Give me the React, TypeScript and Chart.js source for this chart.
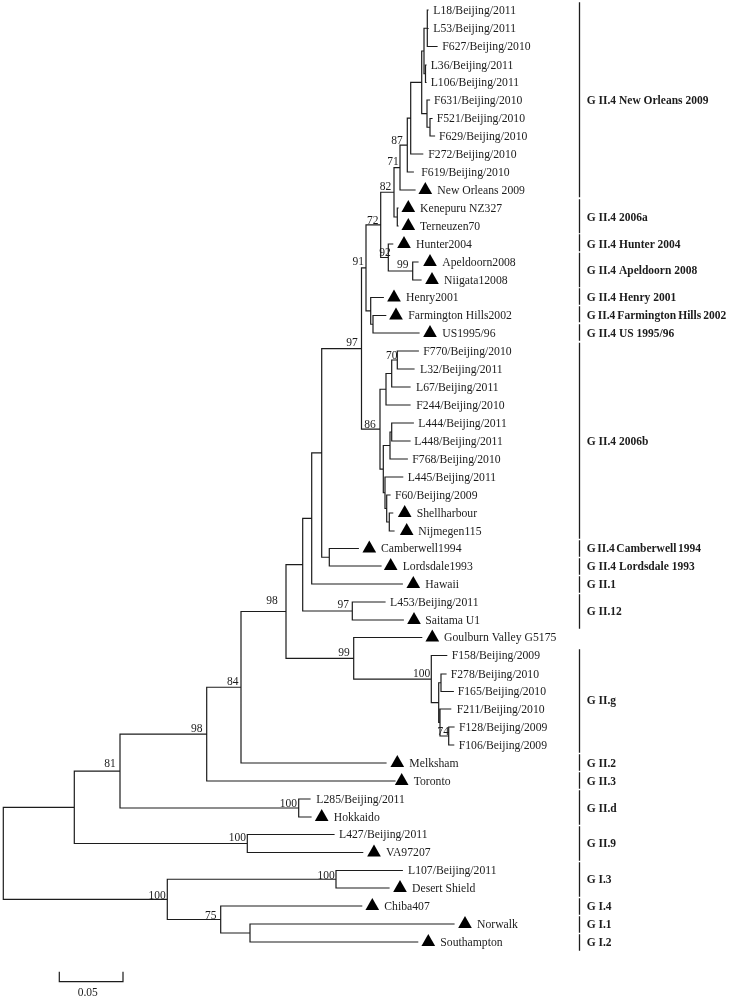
import React, { useEffect, useRef } from "react";
import { Chart, registerables } from "chart.js";

Chart.register(...registerables);

const taxa = ["L18/Beijing/2011","L53/Beijing/2011","F627/Beijing/2010","L36/Beijing/2011","L106/Beijing/2011","F631/Beijing/2010","F521/Beijing/2010","F629/Beijing/2010","F272/Beijing/2010","F619/Beijing/2010","New Orleans 2009","Kenepuru NZ327","Terneuzen70","Hunter2004","Apeldoorn2008","Niigata12008","Henry2001","Farmington Hills2002","US1995/96","F770/Beijing/2010","L32/Beijing/2011","L67/Beijing/2011","F244/Beijing/2010","L444/Beijing/2011","L448/Beijing/2011","F768/Beijing/2010","L445/Beijing/2011","F60/Beijing/2009","Shellharbour","Nijmegen115","Camberwell1994","Lordsdale1993","Hawaii","L453/Beijing/2011","Saitama U1","Goulburn Valley G5175","F158/Beijing/2009","F278/Beijing/2010","F165/Beijing/2010","F211/Beijing/2010","F128/Beijing/2009","F106/Beijing/2009","Melksham","Toronto","L285/Beijing/2011","Hokkaido","L427/Beijing/2011","VA97207","L107/Beijing/2011","Desert Shield","Chiba407","Norwalk","Southampton"];
const taxaY = [10,28.5,46.5,65,82.5,100,118.5,136,154,172,190,208,226,244,262,280,297.5,315.5,333,351,369,387,405,423,441,459,477,495,513,531,548.5,566,584,602,620,637.5,655.5,674,691.5,709,727,745,763,781,799,817,834.5,852.5,870.5,888,906,924,942];
const tipX = [428,428,437,426,426,429.5,432,434.5,422.7,413.3,415,398,398,392.7,418,421,383.3,385.7,419,418.3,414,410,410,413.3,410,407.3,402.7,390,392.7,394,358.3,381,402.3,385,403.3,421.7,446.7,446,453.3,450.7,454,453.7,386,395,310,311,334,362.7,402.3,389,361.7,454,417.7];
const labelX = [433.3,433.3,442.3,430.7,430.7,434,436.7,439,428.3,421.3,437.3,420,420,416,442.3,444,406,408.3,442.3,423.3,420,416,416.3,418.3,414.3,412.3,407.7,395,416.7,418.3,381,402.7,425.3,390,425.3,444,451.7,450.7,457.7,456.7,459,458.7,409.3,413.7,316.3,333.7,339,386,408,412,384.3,477,440.3];
const markerX = [null,null,null,null,null,null,null,null,null,null,425.3,408.3,408.3,404,430,432,394,396,430,null,null,null,null,null,null,null,null,null,404.7,406.7,369.3,390.7,413.3,null,414,432.3,null,null,null,null,null,null,397.3,401.7,null,321.7,null,374,null,400,372.3,465,428.3];
const taxaParent = ["A","A","A","B","B","C","D","D","F","G","H","J","J","L","M","M","Q","R","R","X","X","W","U","AA","AA","Y","Z","AB","AC","AC","AE","AE","AF","AH","AH","AJ","AK","AM","AM","AN","AO","AO","AP","AQ","AS","AS","AU","AU","AW","AW","AX","AY","AY"];

const nodeIds = ["Root","AT","AV","AR","AU","AQ","AS","AP","AI","AG","AJ","AF","AH","AD","S","AE","O","T","K","Q","I","L","H","J","G","F","E","N1","C","A","B","D","M","R","U","V","W","X","Y","Z","AA","AB","AC","AK","AL","AM","AN","AO","AW","AX","AY"];
const nodeX = [3.3,74.3,167.3,120,247.3,206.7,298.7,241,286,302.7,353.7,311.7,352.3,321.7,361.5,329.3,366,380,380.7,370.7,394,388.3,400,397.3,407.3,410.7,421.7,424,427,427.3,425.5,430,412.7,373,386,383.3,391.7,397.3,390,385,391.7,386.7,389.3,431.3,438.7,441,440,448.7,336,220.7,250];
const nodeParent = [null,"Root","Root","AT","AT","AR","AR","AQ","AP","AI","AI","AG","AG","AF","AD","AD","S","S","O","O","K","K","I","I","H","G","F","E","E","N1","N1","C","L","Q","T","T","U","W","V","V","Y","Z","AB","AJ","AK","AL","AL","AN","AV","AV","AX"];

const supportText = ["87","71","82","72","92","99","91","97","70","86","97","99","100","74","98","84","98","81","100","100","100","75","100"];
const supportX = [397,393,385.5,372.7,385,402.7,358.3,352,391.7,370,343.3,344,421.7,443.3,272,232.7,196.7,110,288.3,237.3,157,210.7,326];
const supportY = [140,161,186,220,252,264,261,342,355,424,604.3,652,672.7,730.7,600,681,728,763,802.7,837,895,915,875];

const groupNames = ["G II.4 New Orleans 2009","G II.4 2006a","G II.4 Hunter 2004","G II.4 Apeldoorn 2008","G II.4 Henry 2001","G II.4 Farmington Hills 2002","G II.4 US 1995/96","G II.4 2006b","G II.4 Camberwell 1994","G II.4 Lordsdale 1993","G II.1","G II.12","G II.g","G II.2","G II.3","G II.d","G II.9","G I.3","G I.4","G I.1","G I.2"];
const groupTop = [3,200,235,253.3,289,307,325,343.3,541,559,577,595,650,755,773,791,827,863,899,917,935];
const groupBottom = [196.7,232.7,250.7,286.7,304,321.7,340,538,556,574,592,628,752,770,788,824,860,896,914,932,950];
const groupLabelY = [100,217,244,270,297,315,333,441,548,566,584,611,700,763,781,808,843,879,906,924,942];
const groupWordSpacing = [0,0,0,0,0,-0.8,0,0,-1.3,0,0,0,0,0,0,0,0,0,0,0,0];
const groupBarX = 579.5;
const groupLabelX = 586.7;

const scaleBarX = [59.3,123];
const scaleBarY = [972.3,981.7];
const scaleBarLabel = "0.05";
const scaleBarLabelX = 87.8;
const scaleBarLabelY = 991.7;

const SERIF = '"Liberation Serif", "Times New Roman", serif';
const INK = "#1c1c1c";
const TEXT_NUDGE = 0.9;

type P = { x: number; y: number };
const GAP: P = { x: NaN, y: NaN };

function buildBranches(): P[] {
  const xOf = new Map<string, number>();
  const kids = new Map<string, { x: number; y: () => number }[]>();
  nodeIds.forEach((id, i) => { xOf.set(id, nodeX[i]); kids.set(id, []); });
  const yOf = (id: string): number => {
    const ys = kids.get(id)!.map((k) => k.y());
    return (Math.min(...ys) + Math.max(...ys)) / 2;
  };
  taxa.forEach((_, i) => kids.get(taxaParent[i])!.push({ x: tipX[i], y: () => taxaY[i] }));
  nodeIds.forEach((id, i) => {
    const p = nodeParent[i];
    if (p) kids.get(p)!.push({ x: nodeX[i], y: () => yOf(id) });
  });
  const out: P[] = [];
  nodeIds.forEach((id) => {
    const x = xOf.get(id)!;
    const ks = kids.get(id)!;
    const ys = ks.map((k) => k.y());
    out.push({ x, y: Math.min(...ys) }, { x, y: Math.max(...ys) }, GAP);
    ks.forEach((k) => {
      const y = k.y();
      out.push({ x, y }, { x: k.x, y }, GAP);
    });
  });
  return out;
}

const textPlugin = {
  id: "treeText",
  afterDatasetsDraw(chart: any) {
    const { ctx, scales } = chart;
    const px = (v: number) => scales.x.getPixelForValue(v);
    const py = (v: number) => scales.y.getPixelForValue(v) + TEXT_NUDGE;
    ctx.save();
    ctx.fillStyle = INK;
    ctx.textBaseline = "middle";
    ctx.textAlign = "left";
    ctx.font = `11.7px ${SERIF}`;
    taxa.forEach((t, i) => ctx.fillText(t, px(labelX[i]), py(taxaY[i])));
    ctx.font = `bold 11.5px ${SERIF}`;
    groupNames.forEach((t, i) => {
      ctx.wordSpacing = `${groupWordSpacing[i]}px`;
      ctx.fillText(t, px(groupLabelX), py(groupLabelY[i]));
    });
    ctx.wordSpacing = "0px";
    ctx.textAlign = "center";
    ctx.font = `11.5px ${SERIF}`;
    supportText.forEach((t, i) => ctx.fillText(t, px(supportX[i]), py(supportY[i])));
    ctx.fillText(scaleBarLabel, px(scaleBarLabelX), py(scaleBarLabelY));
    ctx.restore();
  },
};

export default function App() {
  const ref = useRef<HTMLCanvasElement>(null);
  useEffect(() => {
    const groupBars: P[] = [];
    groupTop.forEach((t, i) => groupBars.push({ x: groupBarX, y: t }, { x: groupBarX, y: groupBottom[i] }, GAP));
    const scaleBar: P[] = [
      { x: scaleBarX[0], y: scaleBarY[0] },
      { x: scaleBarX[0], y: scaleBarY[1] },
      { x: scaleBarX[1], y: scaleBarY[1] },
      { x: scaleBarX[1], y: scaleBarY[0] },
    ];
    const markers: P[] = [];
    markerX.forEach((m, i) => { if (m !== null) markers.push({ x: m, y: taxaY[i] }); });
    const line = (label: string, data: P[], width: number) => ({
      label, data, showLine: true, spanGaps: false, borderColor: INK, borderWidth: width,
      pointRadius: 0, pointHoverRadius: 0, borderCapStyle: "square" as const,
    });
    const chart = new Chart(ref.current!, {
      type: "scatter",
      data: {
        datasets: [
          line("Branches", buildBranches(), 1.2),
          line("Genotype bars", groupBars, 1.3),
          line("Scale bar", scaleBar, 1.2),
          {
            label: "Reference strains", data: markers, showLine: false, pointStyle: "triangle",
            pointRadius: 7.9, pointHoverRadius: 7.9, backgroundColor: "#000", borderColor: "#000", borderWidth: 0,
          },
        ],
      },
      options: {
        animation: false,
        responsive: false,
        layout: { padding: 0, autoPadding: false },
        plugins: { legend: { display: false }, tooltip: { enabled: false } },
        events: [],
        scales: {
          x: { type: "linear", min: 0, max: 730, display: false },
          y: { type: "linear", min: 0, max: 999, reverse: true, display: false },
        },
      },
      plugins: [textPlugin],
    });
    return () => chart.destroy();
  }, []);
  return (
    <div style={{ position: "absolute", left: 0, top: 0, width: 730, height: 999, background: "#fff" }}>
      <canvas ref={ref} width={730} height={999} style={{ display: "block" }} />
    </div>
  );
}
